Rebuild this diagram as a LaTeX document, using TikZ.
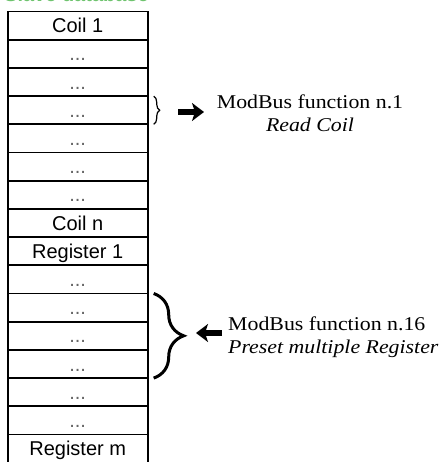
\documentclass[tikz,border=0pt]{standalone}
\usepackage{fontspec}
\usetikzlibrary{positioning,decorations.pathreplacing,arrows.meta}
\newfontfamily\cellfont{Liberation Sans}
\newfontfamily\notefont[FakeStretch=1.12]{Liberation Serif}
\definecolor{titlegreen}{RGB}{110,195,110}

\tikzset{
  cell/.style={draw, line width=1.8pt, minimum width=140pt, minimum height=28.2pt,
    inner sep=0pt, outer sep=0pt, text height=14.3pt, text depth=0pt,
    font=\cellfont\fontsize{20}{24}\selectfont},
  dotcell/.style={cell, text=black!60},
  bracket/.style={decorate, decoration={brace, amplitude=#1}},
  fatarrow/.style={line width=6.5pt, -{Stealth[length=12pt,width=18pt,inset=3pt]}},
  note/.style={inner sep=0pt, font=\notefont\fontsize{19.5}{23}\selectfont}
}

\begin{document}
\begin{tikzpicture}[x=1pt,y=1pt]
\useasboundingbox (0,0) rectangle (440,-462);
\clip (0,0) rectangle (440,-462);

% title, cut by the page edge
\node[anchor=base west, inner sep=0pt, text=titlegreen,
  font=\cellfont\bfseries\fontsize{20}{24}\selectfont] (title) at (4,-1.5) {Slave database};

% coils
\node[cell] (c1) at (77.7,-25.6) {Coil 1};
\node[dotcell, below=0pt of c1] (c2) {...};
\node[dotcell, below=0pt of c2] (c3) {...};
\node[dotcell, below=0pt of c3] (c4) {...};
\node[dotcell, below=0pt of c4] (c5) {...};
\node[dotcell, below=0pt of c5] (c6) {...};
\node[dotcell, below=0pt of c6] (c7) {...};
\node[cell, below=0pt of c7] (c8) {Coil n};

% registers
\node[cell, below=0pt of c8] (c9) {Register 1};
\node[dotcell, below=0pt of c9] (c10) {...};
\node[dotcell, below=0pt of c10] (c11) {...};
\node[dotcell, below=0pt of c11] (c12) {...};
\node[dotcell, below=0pt of c12] (c13) {...};
\node[dotcell, below=0pt of c13] (c14) {...};
\node[dotcell, below=0pt of c14] (c15) {...};
\node[cell, below=0pt of c15] (c16) {Register m};

% braces
\draw[bracket=6pt, line width=1.2pt] ([xshift=6pt]c4.north east) -- ([xshift=6pt]c4.south east);
\draw[bracket=30pt, line width=3pt] ([xshift=6pt]c11.north east) -- ([xshift=6pt]c13.south east);

% arrows
\node[coordinate] (a1) at (178,-112) {};
\node[coordinate] (a1tip) at (204,-112) {};
\node[coordinate] (a2) at (222,-333) {};
\node[coordinate] (a2tip) at (196,-333) {};
\draw[fatarrow] (a1) -- (a1tip);
\draw[fatarrow] (a2) -- (a2tip);

% labels
\node[note, anchor=north, align=center] (fn1) at (310,-94.6)
  {ModBus function n.1\\\textit{Read Coil}};
\node[note, anchor=north west, align=left] (fn16) at (228,-316.6)
  {ModBus function n.16\\\textit{Preset multiple Register}};
\end{tikzpicture}
\end{document}
